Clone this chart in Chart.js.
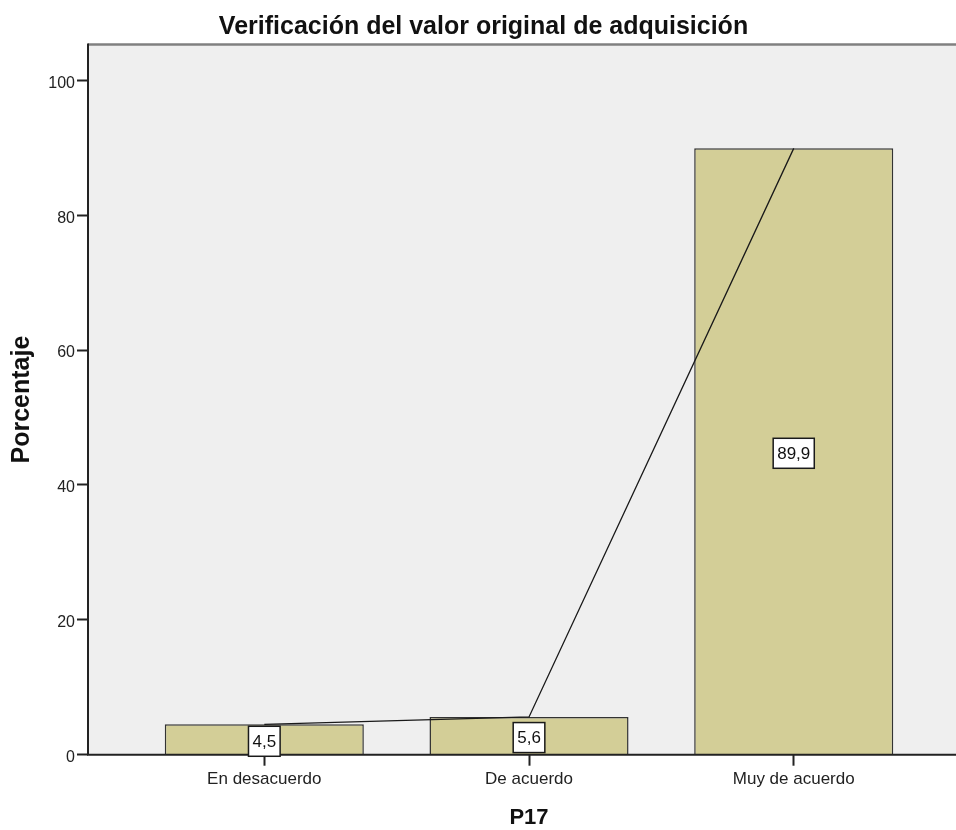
<!DOCTYPE html>
<html lang="es">
<head>
<meta charset="utf-8">
<title>Verificación del valor original de adquisición</title>
<script src="https://cdn.jsdelivr.net/npm/chart.js@4.4.1/dist/chart.umd.min.js"></script>
<style>
  body { margin: 0; background: #ffffff; overflow: hidden; }
  #chartBox { width: 956px; height: 830px; }
</style>
</head>
<body>
<div id="chartBox">
  <canvas id="p17Chart" width="956" height="830"></canvas>
</div>
<script>
// Chart data
const categories = ['En desacuerdo', 'De acuerdo', 'Muy de acuerdo'];
const percentages = [4.5, 5.6, 89.9];
const yTicks = [0, 20, 40, 60, 80, 100];

const chartTitle = 'Verificación del valor original de adquisición';
const xTitle = 'P17';
const yTitle = 'Porcentaje';

const fontFamily = '"Liberation Sans", Arial, sans-serif';

// Categories sit at positions 1..n on a linear axis
const points = percentages.map((value, index) => ({ x: index + 1, y: value }));

// Plugin to paint the plot background and the frame lines
const plotFrame = {
  id: 'plotFrame',
  beforeDatasetsDraw(chart) {
    const { ctx, chartArea } = chart;
    ctx.save();
    ctx.fillStyle = '#efefef';
    ctx.fillRect(chartArea.left, chartArea.top, chartArea.right - chartArea.left, chartArea.bottom - chartArea.top);
    ctx.restore();
  },
  afterDatasetsDraw(chart) {
    const { ctx, chartArea } = chart;
    ctx.save();
    // top border (grey)
    ctx.strokeStyle = '#808080';
    ctx.lineWidth = 2.5;
    ctx.beginPath();
    ctx.moveTo(chartArea.left, chartArea.top);
    ctx.lineTo(chartArea.right, chartArea.top);
    ctx.stroke();
    // axis lines
    ctx.strokeStyle = '#222222';
    ctx.lineWidth = 2;
    ctx.beginPath();
    ctx.moveTo(chartArea.left, chartArea.top - 1);
    ctx.lineTo(chartArea.left, chartArea.bottom);
    ctx.lineTo(chartArea.right, chartArea.bottom);
    ctx.stroke();
    ctx.restore();
  }
};

// Plugin to draw the boxed value labels in the middle of each bar
const valueBoxes = {
  id: 'valueBoxes',
  afterDatasetsDraw(chart) {
    const { ctx } = chart;
    const meta = chart.getDatasetMeta(1);
    ctx.save();
    ctx.font = '17px ' + fontFamily;
    ctx.textAlign = 'center';
    ctx.textBaseline = 'middle';
    meta.data.forEach((bar, index) => {
      const text = percentages[index].toFixed(1).replace('.', ',');
      const w = ctx.measureText(text).width + 8;
      const h = 30;
      const cx = bar.x;
      const cy = (bar.y + bar.base) / 2 + 2;
      ctx.fillStyle = '#ffffff';
      ctx.fillRect(cx - w / 2, cy - h / 2, w, h);
      ctx.strokeStyle = '#1a1a1a';
      ctx.lineWidth = 1.5;
      ctx.strokeRect(cx - w / 2, cy - h / 2, w, h);
      ctx.fillStyle = '#111111';
      ctx.fillText(text, cx, cy + 1);
    });
    ctx.restore();
  }
};

// Plugin to draw the main title and the x axis title
const titles = {
  id: 'titles',
  afterDraw(chart) {
    const { ctx, scales } = chart;
    const midCategory = scales.x.getPixelForValue((1 + categories.length) / 2);
    ctx.save();
    ctx.fillStyle = '#111111';
    ctx.textAlign = 'center';
    ctx.textBaseline = 'middle';
    ctx.font = 'bold 25px ' + fontFamily;
    ctx.fillText(chartTitle, 483.5, 27);
    ctx.font = 'bold 22px ' + fontFamily;
    ctx.fillText(xTitle, midCategory, 818);
    ctx.restore();
  }
};

const ctx = document.getElementById('p17Chart').getContext('2d');

const p17Chart = new Chart(ctx, {
  type: 'bar',
  data: {
    datasets: [
      {
        type: 'line',
        data: points,
        borderColor: '#1a1a1a',
        borderWidth: 1.3,
        pointRadius: 0,
        tension: 0,
        fill: false,
        order: 0
      },
      {
        type: 'bar',
        data: points,
        backgroundColor: '#d3ce97',
        borderColor: '#333333',
        borderWidth: 1.5,
        borderSkipped: 'start',
        barPercentage: 0.752,
        categoryPercentage: 1,
        order: 1
      }
    ]
  },
  options: {
    responsive: false,
    animation: false,
    layout: { padding: { top: 44.5, left: 0, right: 0, bottom: 0 } },
    plugins: {
      legend: { display: false },
      title: { display: false },
      tooltip: { enabled: false }
    },
    scales: {
      x: {
        type: 'linear',
        min: 0.334,
        max: 3.613,
        offset: false,
        afterBuildTicks: scale => {
          scale.ticks = categories.map((c, i) => ({ value: i + 1 }));
        },
        afterFit: scale => { scale.height = 75.3; },
        grid: {
          offset: false,
          drawOnChartArea: false,
          drawTicks: true,
          tickLength: 11,
          tickWidth: 2,
          tickColor: '#222222'
        },
        border: { display: false },
        ticks: {
          autoSkip: false,
          maxRotation: 0,
          padding: 3,
          color: '#222222',
          font: { family: fontFamily, size: 17 },
          callback: value => categories[value - 1] || ''
        }
      },
      y: {
        min: 0,
        max: 105.3,
        afterBuildTicks: scale => {
          scale.ticks = yTicks.map(v => ({ value: v }));
        },
        afterFit: scale => { scale.width = 88; },
        grid: {
          drawOnChartArea: false,
          drawTicks: true,
          tickLength: 11,
          tickWidth: 2,
          tickColor: '#222222'
        },
        border: { display: false },
        title: {
          display: true,
          text: yTitle,
          color: '#111111',
          font: { family: fontFamily, size: 25, weight: 'bold' },
          padding: { top: 7, bottom: 0 }
        },
        ticks: {
          padding: 2,
          labelOffset: 3,
          color: '#222222',
          font: { family: fontFamily, size: 16 }
        }
      }
    }
  },
  plugins: [plotFrame, valueBoxes, titles]
});
</script>
</body>
</html>
